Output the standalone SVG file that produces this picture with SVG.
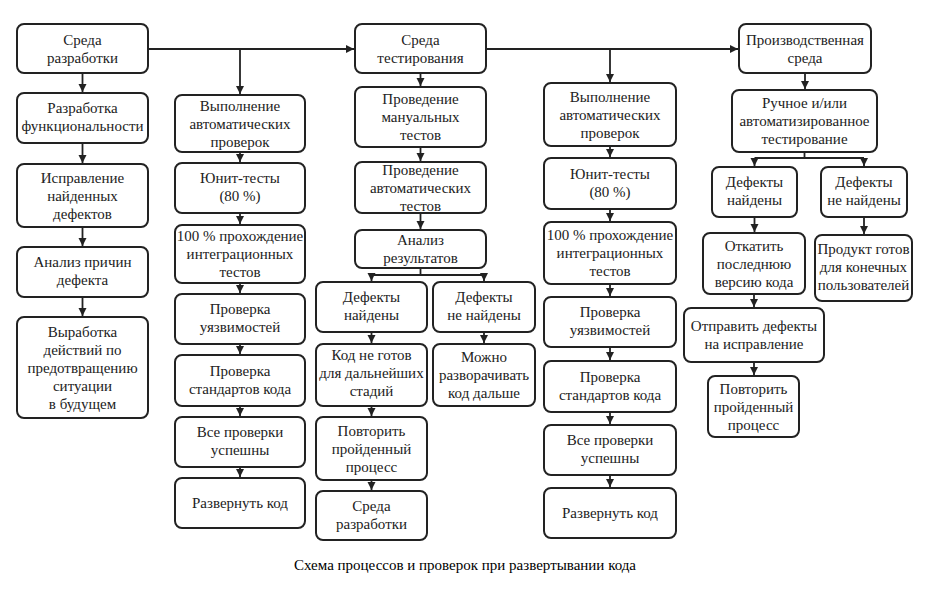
<svg xmlns="http://www.w3.org/2000/svg" width="931" height="594" viewBox="0 0 931 594">
<style>
.box{fill:#fff;stroke:#222;stroke-width:2}
text{font-family:'Liberation Serif',serif !important;font-size:15px;fill:#222;text-anchor:middle}
.cap{fill:#000}
.ln{fill:none;stroke:#222;stroke-width:1.8}
</style>
<defs>
<marker id="ar" markerUnits="userSpaceOnUse" markerWidth="10" markerHeight="10" refX="8" refY="4" orient="auto">
<path d="M0,0 L8,4 L0,8 Z" fill="#222"/>
</marker>
</defs>
<rect width="931" height="594" fill="#fff"/>
<g id="connectors">
<path class="ln" d="M148,49 H354" marker-end="url(#ar)"/>
<path class="ln" d="M486,49 H738" marker-end="url(#ar)"/>
<path class="ln" d="M240,49 V94" marker-end="url(#ar)"/>
<path class="ln" d="M610,49 V82" marker-end="url(#ar)"/>
<path class="ln" d="M82.5,73 V92" marker-end="url(#ar)"/>
<path class="ln" d="M82.5,143 V163" marker-end="url(#ar)"/>
<path class="ln" d="M82.5,227 V246" marker-end="url(#ar)"/>
<path class="ln" d="M82.5,297 V316" marker-end="url(#ar)"/>
<path class="ln" d="M240,152 V162" marker-end="url(#ar)"/>
<path class="ln" d="M240,213 V224" marker-end="url(#ar)"/>
<path class="ln" d="M240,283 V293" marker-end="url(#ar)"/>
<path class="ln" d="M240,344 V354" marker-end="url(#ar)"/>
<path class="ln" d="M240,406 V416" marker-end="url(#ar)"/>
<path class="ln" d="M240,467 V477" marker-end="url(#ar)"/>
<path class="ln" d="M420.5,73 V86" marker-end="url(#ar)"/>
<path class="ln" d="M420.5,147 V161" marker-end="url(#ar)"/>
<path class="ln" d="M420.5,213 V229" marker-end="url(#ar)"/>
<path class="ln" d="M420.5,268 V275"/>
<path class="ln" d="M371.5,275 H484"/>
<path class="ln" d="M371.5,275 V281" marker-end="url(#ar)"/>
<path class="ln" d="M484,275 V281" marker-end="url(#ar)"/>
<path class="ln" d="M371.5,332 V343" marker-end="url(#ar)"/>
<path class="ln" d="M484,332 V343" marker-end="url(#ar)"/>
<path class="ln" d="M371.5,406 V416" marker-end="url(#ar)"/>
<path class="ln" d="M371.5,480 V490" marker-end="url(#ar)"/>
<path class="ln" d="M610,146 V157" marker-end="url(#ar)"/>
<path class="ln" d="M610,209 V221" marker-end="url(#ar)"/>
<path class="ln" d="M610,284 V296" marker-end="url(#ar)"/>
<path class="ln" d="M610,347 V360" marker-end="url(#ar)"/>
<path class="ln" d="M610,412 V424" marker-end="url(#ar)"/>
<path class="ln" d="M610,475 V487" marker-end="url(#ar)"/>
<path class="ln" d="M805,73 V89" marker-end="url(#ar)"/>
<path class="ln" d="M804.5,152 V158"/>
<path class="ln" d="M754.5,158 H864"/>
<path class="ln" d="M754.5,158 V166" marker-end="url(#ar)"/>
<path class="ln" d="M864,158 V166" marker-end="url(#ar)"/>
<path class="ln" d="M754.5,217 V232" marker-end="url(#ar)"/>
<path class="ln" d="M864,217 V234" marker-end="url(#ar)"/>
<path class="ln" d="M754,294 V307" marker-end="url(#ar)"/>
<path class="ln" d="M754,362 V375" marker-end="url(#ar)"/>
</g>
<g id="n1"><rect class="box" x="17" y="24" width="131" height="49" rx="7"/><text style="font-family:'Liberation Serif',serif" x="82.5" y="44.5">Среда</text><text style="font-family:'Liberation Serif',serif" x="82.5" y="62.5">разработки</text></g>
<g id="n2"><rect class="box" x="17" y="93" width="131" height="50" rx="7"/><text style="font-family:'Liberation Serif',serif" x="82.5" y="113">Разработка</text><text style="font-family:'Liberation Serif',serif" x="82.5" y="131">функциональности</text></g>
<g id="n3"><rect class="box" x="17" y="164" width="131" height="63" rx="7"/><text style="font-family:'Liberation Serif',serif" x="82.5" y="182.5">Исправление</text><text style="font-family:'Liberation Serif',serif" x="82.5" y="200.5">найденных</text><text style="font-family:'Liberation Serif',serif" x="82.5" y="218.5">дефектов</text></g>
<g id="n4"><rect class="box" x="17" y="247" width="131" height="50" rx="7"/><text style="font-family:'Liberation Serif',serif" x="82.5" y="267">Анализ причин</text><text style="font-family:'Liberation Serif',serif" x="82.5" y="285">дефекта</text></g>
<g id="n5"><rect class="box" x="17" y="317" width="131" height="101" rx="7"/><text style="font-family:'Liberation Serif',serif" x="82.5" y="336.5">Выработка</text><text style="font-family:'Liberation Serif',serif" x="82.5" y="354.5">действий по</text><text style="font-family:'Liberation Serif',serif" x="82.5" y="372.5">предотвращению</text><text style="font-family:'Liberation Serif',serif" x="82.5" y="390.5">ситуации</text><text style="font-family:'Liberation Serif',serif" x="82.5" y="408.5">в будущем</text></g>

<g id="c2a"><rect class="box" x="175" y="95" width="130" height="57" rx="7"/><text style="font-family:'Liberation Serif',serif" x="240" y="110.5">Выполнение</text><text style="font-family:'Liberation Serif',serif" x="240" y="128.5">автоматических</text><text style="font-family:'Liberation Serif',serif" x="240" y="146.5">проверок</text></g>
<g id="c2b"><rect class="box" x="175" y="163" width="130" height="50" rx="7"/><text style="font-family:'Liberation Serif',serif" x="240" y="183">Юнит-тесты</text><text style="font-family:'Liberation Serif',serif" x="240" y="201">(80 %)</text></g>
<g id="c2c"><rect class="box" x="175" y="225" width="130" height="58" rx="7"/><text style="font-family:'Liberation Serif',serif" x="240" y="241">100 % прохождение</text><text style="font-family:'Liberation Serif',serif" x="240" y="259">интеграционных</text><text style="font-family:'Liberation Serif',serif" x="240" y="277">тестов</text></g>
<g id="c2d"><rect class="box" x="175" y="294" width="130" height="50" rx="7"/><text style="font-family:'Liberation Serif',serif" x="240" y="314">Проверка</text><text style="font-family:'Liberation Serif',serif" x="240" y="332">уязвимостей</text></g>
<g id="c2e"><rect class="box" x="175" y="355" width="130" height="51" rx="7"/><text style="font-family:'Liberation Serif',serif" x="240" y="375.5">Проверка</text><text style="font-family:'Liberation Serif',serif" x="240" y="393.5">стандартов кода</text></g>
<g id="c2f"><rect class="box" x="175" y="417" width="130" height="50" rx="7"/><text style="font-family:'Liberation Serif',serif" x="240" y="437">Все проверки</text><text style="font-family:'Liberation Serif',serif" x="240" y="455">успешны</text></g>
<g id="c2g"><rect class="box" x="175" y="478" width="130" height="50" rx="7"/><text style="font-family:'Liberation Serif',serif" x="240" y="508">Развернуть код</text></g>

<g id="t1"><rect class="box" x="355" y="24" width="131" height="49" rx="7"/><text style="font-family:'Liberation Serif',serif" x="420.5" y="44.5">Среда</text><text style="font-family:'Liberation Serif',serif" x="420.5" y="62.5">тестирования</text></g>
<g id="t2"><rect class="box" x="355" y="87" width="131" height="60" rx="7"/><text style="font-family:'Liberation Serif',serif" x="420.5" y="104">Проведение</text><text style="font-family:'Liberation Serif',serif" x="420.5" y="122">мануальных</text><text style="font-family:'Liberation Serif',serif" x="420.5" y="140">тестов</text></g>
<g id="t3"><rect class="box" x="355" y="162" width="131" height="51" rx="7"/><text style="font-family:'Liberation Serif',serif" x="420.5" y="175">Проведение</text><text style="font-family:'Liberation Serif',serif" x="420.5" y="193">автоматических</text><text style="font-family:'Liberation Serif',serif" x="420.5" y="211">тестов</text></g>
<g id="t4"><rect class="box" x="355" y="230" width="131" height="38" rx="7"/><text style="font-family:'Liberation Serif',serif" x="420.5" y="245">Анализ</text><text style="font-family:'Liberation Serif',serif" x="420.5" y="263">результатов</text></g>
<g id="t5"><rect class="box" x="316" y="282" width="111" height="50" rx="7"/><text style="font-family:'Liberation Serif',serif" x="371.5" y="302">Дефекты</text><text style="font-family:'Liberation Serif',serif" x="371.5" y="320">найдены</text></g>
<g id="t6"><rect class="box" x="433" y="282" width="102" height="50" rx="7"/><text style="font-family:'Liberation Serif',serif" x="484" y="302">Дефекты</text><text style="font-family:'Liberation Serif',serif" x="484" y="320">не найдены</text></g>
<g id="t7"><rect class="box" x="316" y="344" width="111" height="62" rx="7"/><text style="font-family:'Liberation Serif',serif" x="371.5" y="360">Код не готов</text><text style="font-family:'Liberation Serif',serif" x="371.5" y="378">для дальнейших</text><text style="font-family:'Liberation Serif',serif" x="371.5" y="396">стадий</text></g>
<g id="t8"><rect class="box" x="433" y="344" width="102" height="62" rx="7"/><text style="font-family:'Liberation Serif',serif" x="484" y="362">Можно</text><text style="font-family:'Liberation Serif',serif" x="484" y="380">разворачивать</text><text style="font-family:'Liberation Serif',serif" x="484" y="398">код дальше</text></g>
<g id="t9"><rect class="box" x="316" y="417" width="111" height="63" rx="7"/><text style="font-family:'Liberation Serif',serif" x="371.5" y="435.5">Повторить</text><text style="font-family:'Liberation Serif',serif" x="371.5" y="453.5">пройденный</text><text style="font-family:'Liberation Serif',serif" x="371.5" y="471.5">процесс</text></g>
<g id="t10"><rect class="box" x="316" y="491" width="111" height="49" rx="7"/><text style="font-family:'Liberation Serif',serif" x="371.5" y="511">Среда</text><text style="font-family:'Liberation Serif',serif" x="371.5" y="529">разработки</text></g>

<g id="a1"><rect class="box" x="544" y="83" width="132" height="63" rx="7"/><text style="font-family:'Liberation Serif',serif" x="610" y="101.5">Выполнение</text><text style="font-family:'Liberation Serif',serif" x="610" y="119.5">автоматических</text><text style="font-family:'Liberation Serif',serif" x="610" y="137.5">проверок</text></g>
<g id="a2"><rect class="box" x="544" y="158" width="132" height="51" rx="7"/><text style="font-family:'Liberation Serif',serif" x="610" y="178.5">Юнит-тесты</text><text style="font-family:'Liberation Serif',serif" x="610" y="196.5">(80 %)</text></g>
<g id="a3"><rect class="box" x="544" y="222" width="132" height="62" rx="7"/><text style="font-family:'Liberation Serif',serif" x="610" y="240">100 % прохождение</text><text style="font-family:'Liberation Serif',serif" x="610" y="258">интеграционных</text><text style="font-family:'Liberation Serif',serif" x="610" y="276">тестов</text></g>
<g id="a4"><rect class="box" x="544" y="297" width="132" height="50" rx="7"/><text style="font-family:'Liberation Serif',serif" x="610" y="317">Проверка</text><text style="font-family:'Liberation Serif',serif" x="610" y="335">уязвимостей</text></g>
<g id="a5"><rect class="box" x="544" y="361" width="132" height="51" rx="7"/><text style="font-family:'Liberation Serif',serif" x="610" y="381.5">Проверка</text><text style="font-family:'Liberation Serif',serif" x="610" y="399.5">стандартов кода</text></g>
<g id="a6"><rect class="box" x="544" y="425" width="132" height="50" rx="7"/><text style="font-family:'Liberation Serif',serif" x="610" y="445">Все проверки</text><text style="font-family:'Liberation Serif',serif" x="610" y="463">успешны</text></g>
<g id="a7"><rect class="box" x="544" y="488" width="132" height="50" rx="7"/><text style="font-family:'Liberation Serif',serif" x="610" y="518">Развернуть код</text></g>

<g id="p1"><rect class="box" x="739" y="24" width="132" height="49" rx="7"/><text style="font-family:'Liberation Serif',serif" x="805" y="44.5">Производственная</text><text style="font-family:'Liberation Serif',serif" x="805" y="62.5">среда</text></g>
<g id="p2"><rect class="box" x="732" y="90" width="145" height="62" rx="7"/><text style="font-family:'Liberation Serif',serif" x="804.5" y="108">Ручное и/или</text><text style="font-family:'Liberation Serif',serif" x="804.5" y="126">автоматизированное</text><text style="font-family:'Liberation Serif',serif" x="804.5" y="144">тестирование</text></g>
<g id="p3"><rect class="box" x="712" y="167" width="85" height="50" rx="7"/><text style="font-family:'Liberation Serif',serif" x="754.5" y="187">Дефекты</text><text style="font-family:'Liberation Serif',serif" x="754.5" y="205">найдены</text></g>
<g id="p4"><rect class="box" x="821" y="167" width="86" height="50" rx="7"/><text style="font-family:'Liberation Serif',serif" x="864" y="187">Дефекты</text><text style="font-family:'Liberation Serif',serif" x="864" y="205">не найдены</text></g>
<g id="p5"><rect class="box" x="703" y="233" width="102" height="61" rx="7"/><text style="font-family:'Liberation Serif',serif" x="754" y="250.5">Откатить</text><text style="font-family:'Liberation Serif',serif" x="754" y="268.5">последнюю</text><text style="font-family:'Liberation Serif',serif" x="754" y="286.5">версию кода</text></g>
<g id="p6"><rect class="box" x="815" y="235" width="97" height="66" rx="7"/><text style="font-family:'Liberation Serif',serif" x="863.5" y="254">Продукт готов</text><text style="font-family:'Liberation Serif',serif" x="863.5" y="272">для конечных</text><text style="font-family:'Liberation Serif',serif" x="863.5" y="290">пользователей</text></g>
<g id="p7"><rect class="box" x="684" y="308" width="140" height="54" rx="7"/><text style="font-family:'Liberation Serif',serif" x="754" y="331">Отправить дефекты</text><text style="font-family:'Liberation Serif',serif" x="754" y="349">на исправление</text></g>
<g id="p8"><rect class="box" x="708" y="376" width="91" height="61" rx="7"/><text style="font-family:'Liberation Serif',serif" x="753.5" y="393.5">Повторить</text><text style="font-family:'Liberation Serif',serif" x="753.5" y="411.5">пройденный</text><text style="font-family:'Liberation Serif',serif" x="753.5" y="429.5">процесс</text></g>

<text class="cap" style="font-family:'Liberation Serif',serif" x="465" y="570">Схема процессов и проверок при развертывании кода</text>
</svg>
